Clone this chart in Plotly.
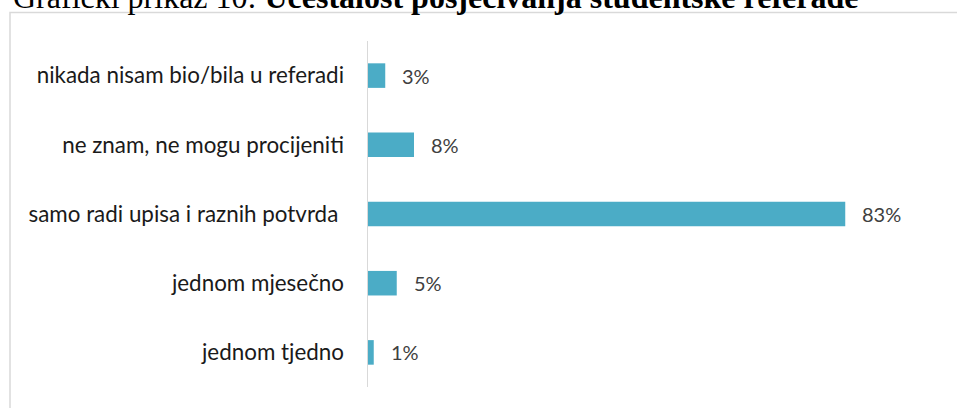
import plotly.graph_objects as go

categories = [
    "nikada nisam bio/bila u referadi",
    "ne znam, ne mogu procijeniti",
    "samo radi upisa i raznih potvrda ",
    "jednom mjesečno",
    "jednom tjedno",
]
values = [3, 8, 83, 5, 1]
value_labels = [f"{v}%" for v in values]

W, H = 957, 408
L, R, T, B = 368, 14, 41, 21
pw, ph = W - L - R, H - T - B
XMAX = 100

def px_to_paper_x(px):
    return (px - L) / pw

def px_to_paper_y(py):
    return 1 + (T - py) / ph

fig = go.Figure()
fig.add_trace(go.Bar(
    x=values, y=categories, orientation="h",
    marker=dict(color="#4BACC6", line=dict(width=0)),
    hoverinfo="skip",
))

for c, v, t in zip(categories, values, value_labels):
    fig.add_annotation(x=v, y=c, xref="x", yref="y", text=t, showarrow=False,
                       xanchor="left", yanchor="middle", xshift=15,
                       font=dict(family="Lato", size=20, color="#404040"))

fig.add_annotation(
    x=px_to_paper_x(11), y=px_to_paper_y(17), xref="paper", yref="paper",
    xanchor="left", yanchor="bottom", showarrow=False,
    text="Grafički prikaz 10: <b>Učestalost posjećivanja studentske referade</b>",
    font=dict(family="Liberation Serif", size=32, color="#000000"),
)

fig.add_shape(type="rect", xref="paper", yref="paper",
              x0=px_to_paper_x(10), x1=1.2, y0=-0.2, y1=px_to_paper_y(12.5),
              line=dict(color="#D9D9D9", width=1.5), fillcolor="rgba(0,0,0,0)", layer="below")

fig.update_layout(
    width=W, height=H,
    margin=dict(l=L, r=R, t=T, b=B),
    paper_bgcolor="white", plot_bgcolor="white",
    bargap=0.645, showlegend=False,
    xaxis=dict(range=[0, XMAX], visible=False, showgrid=False, zeroline=False),
    yaxis=dict(autorange="reversed", showline=True, linecolor="#D9D9D9", linewidth=1.5,
               showgrid=False, ticks="", ticklabelstandoff=18,
               tickfont=dict(family="Lato", size=22.4, color="#1A1A1A")),
)

fig.write_html(
    "out.html",
    config={"displayModeBar": False, "staticPlot": True},
    post_script="document.body.style.margin='0';document.body.style.overflow='hidden';",
)
